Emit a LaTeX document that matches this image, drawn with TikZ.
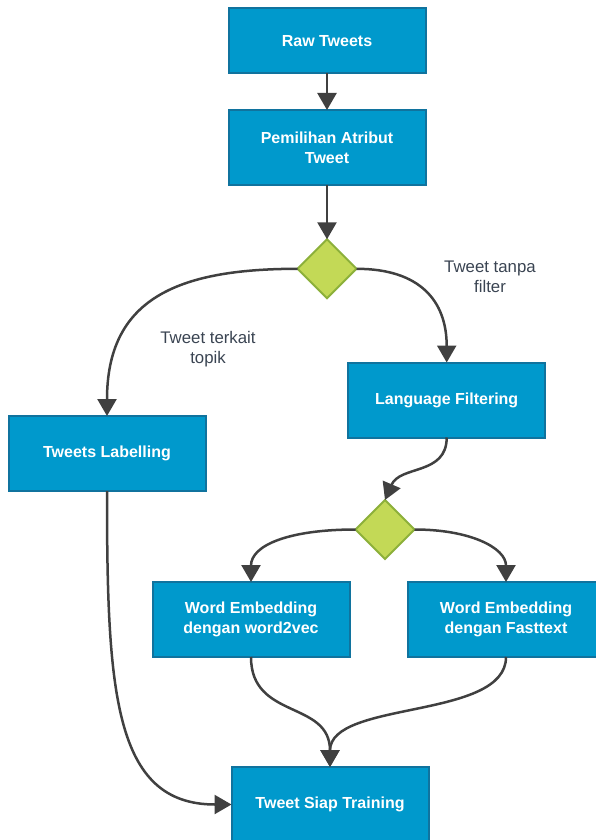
\documentclass[tikz,border=0pt]{standalone}
\usepackage{fontspec}
\setmainfont{Liberation Sans}
\usetikzlibrary{arrows.meta,shapes.geometric}

\definecolor{boxfill}{HTML}{0099CC}
\definecolor{boxline}{HTML}{10739E}
\definecolor{decfill}{HTML}{C3D956}
\definecolor{decline}{HTML}{8CB03A}
\definecolor{flowline}{HTML}{404040}
\definecolor{labeltext}{HTML}{3A4452}

\tikzset{
  procbox/.style={rectangle, draw=boxline, fill=boxfill, line width=2pt,
    minimum width=197pt, minimum height=75pt, inner sep=0pt, outer sep=0pt,
    text=white, align=center, font=\fontsize{16}{20}\selectfont\bfseries},
  decision/.style={diamond, draw=decline, fill=decfill, line width=2pt,
    minimum width=59pt, minimum height=59pt, inner sep=0pt, outer sep=0pt, aspect=1},
  edgelabel/.style={text=labeltext, align=center, font=\fontsize{16.8}{20}\selectfont},
  flow/.style={draw=flowline, line width=2.5pt,
    -{Triangle[width=19pt,length=17pt]}},
}

\begin{document}
\begin{tikzpicture}[x=1pt,y=-1pt]
\useasboundingbox (0,0) rectangle (596,840);

% process steps
\node[procbox, minimum height=65pt] (raw)  at (327,41)    {Raw Tweets};
\node[procbox] (attr) at (327,147.5)  {Pemilihan Atribut\\Tweet};
\node[decision] (d1)  at (327,268.8)  {};
\node[procbox] (lab)  at (107,453.5)  {Tweets Labelling};
\node[procbox] (lang) at (446.7,400)  {Language Filtering};
\node[decision] (d2)  at (385,529.5)  {};
\node[procbox] (w2v)  at (251,619.5)  {Word Embedding\\dengan word2vec};
\node[procbox] (ft)   at (506,619.5)  {Word Embedding\\dengan Fasttext};
\node[procbox] (siap) at (330,804.5)  {Tweet Siap Training};

% branch labels
\node[edgelabel] (lbltopik)  at (208,349) {Tweet terkait\\topik};
\node[edgelabel] (lblfilter) at (490,277) {Tweet tanpa\\filter};

% connectors
\draw[flow] (raw.south) -- (attr.north);
\draw[flow] (attr.south) -- (d1.north);
\draw[flow] (d1.west) .. controls +(-122,0) and +(0,-116) .. (lab.north);
\draw[flow] (d1.east) .. controls +(63,0) and +(0,-62) .. (lang.north);
\draw[flow] (lang.south) .. controls +(0,38) and +(15,-35) .. (d2.north);
\draw[flow] (d2.west) .. controls +(-66,0) and +(0,-37) .. (w2v.north);
\draw[flow] (d2.east) .. controls +(56,0) and +(0,-34) .. (ft.north);
\draw[flow] (w2v.south) .. controls +(0,63) and +(0,-67) .. (siap.north);
\draw[flow] (ft.south) .. controls +(0,63) and +(0,-67) .. (siap.north);
\draw[flow] (lab.south) .. controls +(0,200) and +(-118,0) .. (siap.west);
\end{tikzpicture}
\end{document}
